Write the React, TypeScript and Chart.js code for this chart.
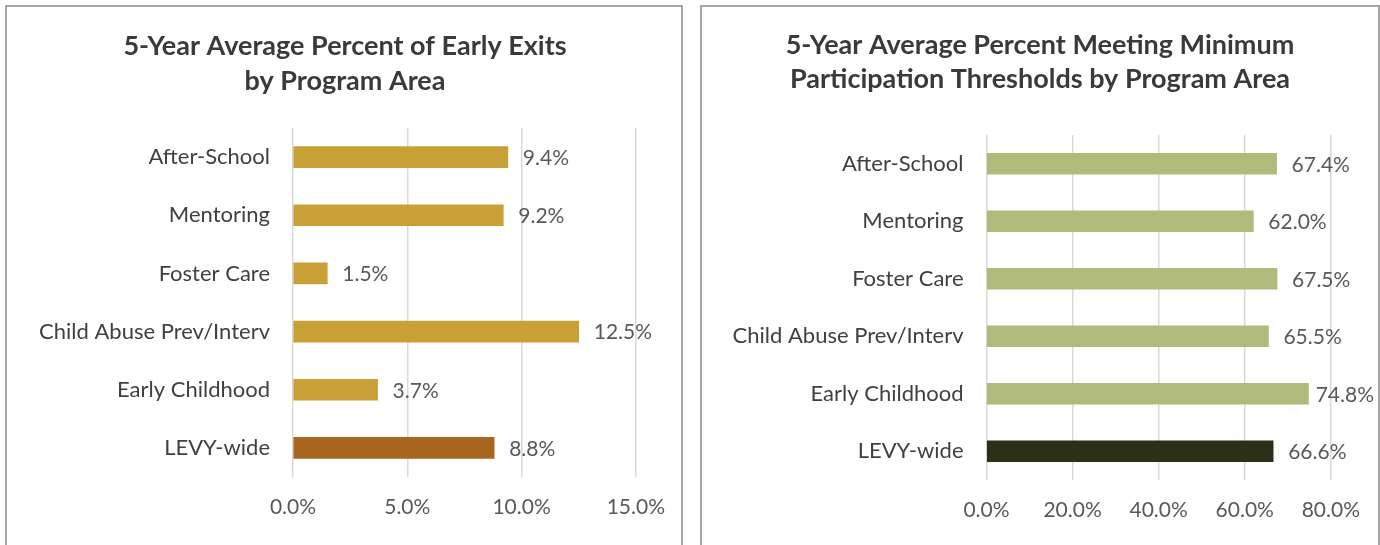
import React, { useEffect, useRef } from "react";
import { Chart, registerables } from "chart.js";

Chart.register(...registerables);

const categories = [
  "After-School",
  "Mentoring",
  "Foster Care",
  "Child Abuse Prev/Interv",
  "Early Childhood",
  "LEVY-wide",
];
const earlyExits = [9.4, 9.2, 1.5, 12.5, 3.7, 8.8];
const participation = [67.4, 62.0, 67.5, 65.5, 74.8, 66.6];

const leftTitle = ["5-Year Average Percent of Early Exits", "by Program Area"];
const rightTitle = [
  "5-Year Average Percent Meeting Minimum",
  "Participation Thresholds by Program Area",
];
const leftTicks = { max: 15, step: 5 };
const rightTicks = { max: 80, step: 20 };

const leftColors = ["#C9A036", "#C9A036", "#C9A036", "#C9A036", "#C9A036", "#A8661F"];
const rightColors = ["#B0BA7A", "#B0BA7A", "#B0BA7A", "#B0BA7A", "#B0BA7A", "#2D3019"];

const FONT = "Lato, 'Open Sans', sans-serif";

const valueLabels = {
  id: "valueLabels",
  afterDatasetsDraw(chart: any) {
    const ctx = chart.ctx;
    const meta = chart.getDatasetMeta(0);
    const data = chart.data.datasets[0].data;
    ctx.save();
    ctx.font = `21px ${FONT}`;
    ctx.fillStyle = "#595959";
    ctx.textBaseline = "middle";
    ctx.textAlign = "left";
    meta.data.forEach((bar: any, i: number) => {
      const txt = Number(data[i]).toFixed(1) + "%";
      const w = ctx.measureText(txt).width;
      let x = bar.x + 15;
      x = Math.min(x, chart.width - w - 4);
      ctx.fillText(txt, x, bar.y + 1);
    });
    ctx.restore();
  },
};

type PanelProps = {
  values: number[];
  colors: string[];
  title: string[];
  max: number;
  step: number;
  yWidth: number;
  xHeight: number;
  rightSpace: number;
  titlePadTop: number;
  titlePadBottom: number;
  titleLine: number;
};

const TITLE_SIZE = 27;

function BarPanel(p: PanelProps) {
  const ref = useRef<HTMLCanvasElement | null>(null);
  useEffect(() => {
    if (!ref.current) return;
    const chart = new Chart(ref.current, {
      type: "bar",
      data: {
        labels: categories,
        datasets: [
          {
            data: p.values,
            backgroundColor: p.colors,
            barThickness: 21,
            yAxisID: "y",
          },
        ],
      },
      plugins: [valueLabels],
      options: {
        indexAxis: "y",
        animation: false,
        responsive: false,
        maintainAspectRatio: false,
        layout: { padding: 0 },
        plugins: {
          legend: { display: false },
          tooltip: { enabled: false },
          title: {
            display: true,
            text: p.title,
            color: "#3A3A3A",
            font: { family: FONT, size: TITLE_SIZE, weight: "bold", lineHeight: p.titleLine },
            padding: { top: p.titlePadTop, bottom: p.titlePadBottom },
          },
        },
        scales: {
          x: {
            min: 0,
            max: p.max,
            ticks: {
              stepSize: p.step,
              color: "#595959",
              padding: 18,
              font: { family: FONT, size: 21 },
              callback: (v: any) => Number(v).toFixed(1) + "%",
            },
            grid: { color: "#D9D9D9", lineWidth: 1.5, drawTicks: false },
            border: { display: false },
            afterFit: (s: any) => {
              s.height = p.xHeight;
            },
          },
          y: {
            position: "left",
            ticks: {
              color: "#404040",
              padding: 23,
              font: { family: FONT, size: 22 },
            },
            grid: { display: false, drawTicks: false },
            border: { display: false },
            afterFit: (s: any) => {
              s.width = p.yWidth;
            },
          },
          yRight: {
            type: "category",
            position: "right",
            ticks: { display: false },
            grid: { display: false, drawTicks: false },
            border: { display: false },
            afterFit: (s: any) => {
              s.width = p.rightSpace;
            },
          },
        },
      },
    } as any);
    return () => chart.destroy();
  }, []);
  return <canvas ref={ref} width={676} height={538} style={{ display: "block" }} />;
}

export default function App() {
  const panelBase: React.CSSProperties = {
    position: "absolute",
    top: 5,
    height: 545,
    borderTop: "2px solid #A6A6A6",
    borderLeft: "2px solid #A6A6A6",
    borderRight: "2px solid #A6A6A6",
    background: "#fff",
    overflow: "hidden",
  };
  return (
    <div
      style={{
        position: "absolute",
        left: 0,
        top: 0,
        width: 1380,
        height: 545,
        overflow: "hidden",
        background: "#fff",
      }}
    >
      <div style={{ ...panelBase, left: 5, width: 674 }}>
        <BarPanel
          values={earlyExits}
          colors={leftColors}
          title={leftTitle}
          max={leftTicks.max}
          step={leftTicks.step}
          yWidth={286}
          xHeight={68}
          rightSpace={44}
          titlePadTop={22}
          titlePadBottom={29}
          titleLine={35 / TITLE_SIZE}
        />
      </div>
      <div style={{ ...panelBase, left: 700, width: 676 }}>
        <BarPanel
          values={participation}
          colors={rightColors}
          title={rightTitle}
          max={rightTicks.max}
          step={rightTicks.step}
          yWidth={284.5}
          xHeight={65}
          rightSpace={41}
          titlePadTop={21}
          titlePadBottom={39}
          titleLine={34 / TITLE_SIZE}
        />
      </div>
    </div>
  );
}
